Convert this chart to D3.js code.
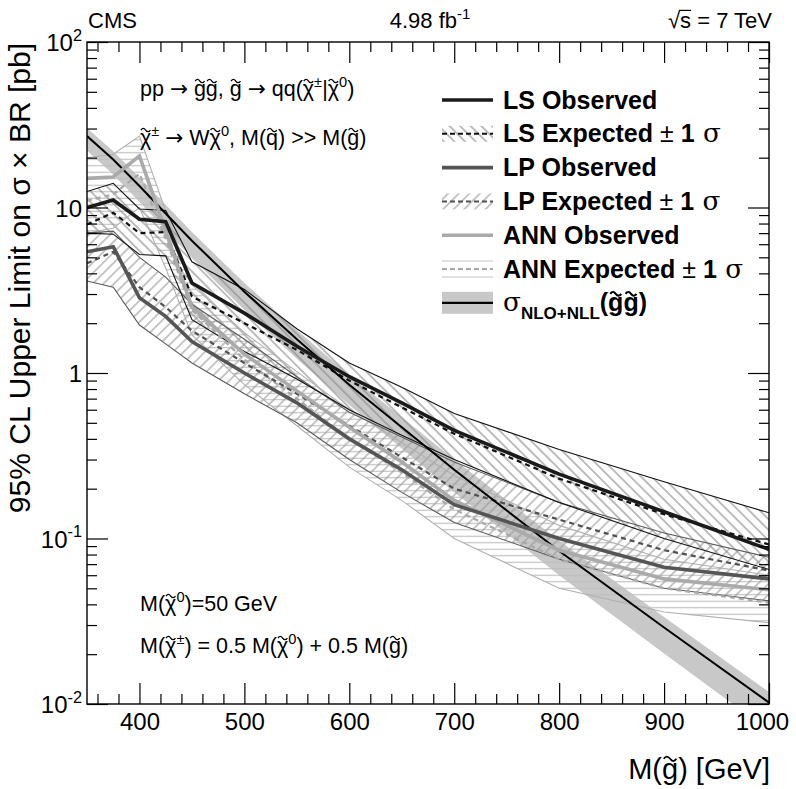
<!DOCTYPE html>
<html><head><meta charset="utf-8">
<script src="https://cdn.jsdelivr.net/npm/d3@7"></script>
<style>
body{margin:0;background:#fff}
text{font-family:"Liberation Sans",Arial,Helvetica,sans-serif;fill:#000}
</style>
</head><body>
<svg id="chart" width="796" height="789"></svg>
<script>
// ---------------- data ----------------
const masses   = [350, 375, 400, 425, 450, 500, 550, 600, 650, 700, 800, 900, 1000];

const theory     = [27, 19.5, 13.5, 9.2, 6.3, 3.1, 1.6, 0.85, 0.47, 0.26, 0.084, 0.029, 0.0102];
const theoryUp   = [30.2, 21.9, 15.2, 10.4, 7.1, 3.5, 1.82, 0.97, 0.54, 0.30, 0.097, 0.0335, 0.0118];
const theoryDown = [22, 15.8, 10.8, 7.3, 4.95, 2.4, 1.22, 0.64, 0.35, 0.19, 0.060, 0.0202, 0.0069];

const lsObs  = [10, 11.1, 8.5, 8.2, 3.5, 2.3, 1.45, 0.95, 0.66, 0.45, 0.245, 0.145, 0.086];
const lsExp  = [7.9, 9.3, 7.0, 7.1, 2.9, 2.0, 1.38, 0.90, 0.62, 0.43, 0.23, 0.14, 0.092];
const lsUp   = [12.5, 14, 9.8, 9.6, 4.7, 3.2, 1.85, 1.15, 0.82, 0.57, 0.345, 0.22, 0.143];
const lsDown = [7.0, 6.9, 5.2, 5.1, 2.1, 1.35, 0.92, 0.60, 0.42, 0.30, 0.165, 0.10, 0.065];

const lpObs  = [5.4, 5.8, 2.85, 2.2, 1.55, 1.0, 0.66, 0.40, 0.26, 0.16, 0.10, 0.067, 0.057];
const lpExp  = [4.6, 5.4, 3.3, 2.5, 1.8, 1.15, 0.75, 0.48, 0.31, 0.20, 0.13, 0.085, 0.064];
const lpUp   = [7.0, 7.2, 5.0, 3.8, 2.6, 1.6, 0.95, 0.58, 0.41, 0.29, 0.165, 0.108, 0.077];
const lpDown = [3.6, 3.3, 1.95, 1.5, 1.15, 0.75, 0.50, 0.30, 0.19, 0.125, 0.075, 0.050, 0.042];

const annObs  = [15, 15.3, 20.5, 7.2, 2.5, 1.3, 0.78, 0.47, 0.29, 0.17, 0.085, 0.057, 0.049];
const annExp  = [11, 12, 16, 6.5, 2.4, 1.2, 0.70, 0.40, 0.25, 0.15, 0.075, 0.050, 0.041];
const annUp   = [20, 21, 27, 9.5, 3.4, 1.75, 1.02, 0.60, 0.38, 0.24, 0.12, 0.075, 0.060];
const annDown = [7, 7.5, 10, 4.3, 1.7, 0.85, 0.48, 0.27, 0.17, 0.10, 0.050, 0.036, 0.031];

const xTickValues = [400, 500, 600, 700, 800, 900, 1000];
const xTickLabels = ["400", "500", "600", "700", "800", "900", "1000"];
const yTickValues = [0.01, 0.1, 1, 10, 100];
const yTickBase   = ["10", "10", "1", "10", "10"];
const yTickExp    = ["-2", "-1", "", "", "2"];

const legendLabels = [
  [["LS Observed","b"]],
  [["LS Expected","b"],[" \u00b1 ",""],["1","b"],[" \u03c3","serif"]],
  [["LP Observed","b"]],
  [["LP Expected","b"],[" \u00b1 ",""],["1","b"],[" \u03c3","serif"]],
  [["ANN Observed","b"]],
  [["ANN Expected","b"],[" \u00b1 ",""],["1","b"],[" \u03c3","serif"]],
  [["\u03c3","serif"],["NLO+NLL","b sub"],["(","b"],["g","b t"],["g","b t"],[")","b"]]
];

// ---------------- layout ----------------
const L = 87, R = 769, T = 42, B = 704;
const svg = d3.select("#chart");
const x = d3.scaleLinear().domain([350, 1000]).range([L, R]);
const y = d3.scaleLog().domain([0.01, 100]).range([B, T]);

const defs = svg.append("defs");
defs.append("clipPath").attr("id","clip").append("rect")
  .attr("x",L).attr("y",T).attr("width",R-L).attr("height",B-T);

function hatch(id, angle, color, sp){
  const p = defs.append("pattern").attr("id",id).attr("patternUnits","userSpaceOnUse")
    .attr("width",sp).attr("height",sp).attr("patternTransform",`rotate(${angle})`);
  p.append("line").attr("x1",sp/2).attr("y1",0).attr("x2",sp/2).attr("y2",sp)
    .attr("stroke",color).attr("stroke-width",1.1);
}
hatch("hLS", -45, "#8a8a8a", 7.5);
hatch("hLP", 45, "#9a9a9a", 7.5);
hatch("hANN", 90, "#bdbdbd", 6.5);

// rich text: tokens b, sup, sub, serif, arr (wide arrow), t (tilde above), o (overline)
function rich(sel, xx, yy, segs, size, anchor){
  const t = sel.append("text").attr("x",xx).attr("y",yy).attr("font-size",size)
    .attr("text-anchor",anchor||"start");
  let shift = 0;
  const marks = [];
  segs.forEach(([s, st]) => {
    const f = new Set((st||"").split(" "));
    const ts = t.append("tspan").text(s);
    const target = f.has("sup") ? -0.42*size : f.has("sub") ? 0.32*size : 0;
    ts.attr("dy", target - shift); shift = target;
    let fs = size;
    if (f.has("sup") || f.has("sub")) fs = size*0.68;
    if (f.has("serif")) { fs = size*1.05; ts.attr("font-family","'DejaVu Serif','Liberation Serif',serif"); }
    if (f.has("arr")) ts.attr("font-family","'DejaVu Sans',sans-serif");
    ts.attr("font-size", fs);
    if (f.has("b")) ts.attr("font-weight","bold");
    if (f.has("t") || f.has("o")) marks.push({ts, f, fs, base: yy + target});
  });
  marks.forEach(({ts, f, fs, base}) => {
    const n = ts.node();
    const e0 = n.getExtentOfChar(0);
    const eN = n.getExtentOfChar(n.getNumberOfChars()-1);
    if (f.has("t")) {
      const w = fs*0.44, a = fs*0.075, cx = e0.x + e0.width/2, cy = base - fs*0.74;
      sel.append("path")
        .attr("d",`M${cx-w/2},${cy+a*0.6} q${w/4},${-2*a} ${w/2},0 t${w/2},0`)
        .attr("fill","none").attr("stroke","#000").attr("stroke-width", f.has("b") ? fs*0.085 : fs*0.06);
    } else {
      const oy = base - fs*0.80;
      sel.append("line").attr("x1",e0.x-fs*0.05).attr("x2",eN.x+eN.width)
        .attr("y1",oy).attr("y2",oy).attr("stroke","#000").attr("stroke-width",fs*0.055);
    }
  });
  return t;
}

const rows = masses.map((m,i)=>({m, th:theory[i], thU:theoryUp[i], thD:theoryDown[i],
  lsO:lsObs[i], lsE:lsExp[i], lsU:lsUp[i], lsD:lsDown[i],
  lpO:lpObs[i], lpE:lpExp[i], lpU:lpUp[i], lpD:lpDown[i],
  anO:annObs[i], anE:annExp[i], anU:annUp[i], anD:annDown[i]}));

const plot = svg.append("g").attr("clip-path","url(#clip)");
const area = (lo,hi) => d3.area().x(d=>x(d.m)).y0(d=>y(d[lo])).y1(d=>y(d[hi]));
const line = k => d3.line().x(d=>x(d.m)).y(d=>y(d[k]));

// theory band
plot.append("path").datum(rows).attr("d",area("thD","thU")).attr("fill","#c8c8c8");
// hatched expected bands
plot.append("path").datum(rows).attr("d",area("anD","anU")).attr("fill","url(#hANN)");
plot.append("path").datum(rows).attr("d",area("lpD","lpU")).attr("fill","url(#hLP)");
plot.append("path").datum(rows).attr("d",area("lsD","lsU")).attr("fill","url(#hLS)");
// band edges
[["anU","#b0b0b0"],["anD","#b0b0b0"],["lpU","#5a5a5a"],["lpD","#5a5a5a"],["lsU","#111"],["lsD","#111"]]
  .forEach(([k,c])=>plot.append("path").datum(rows).attr("d",line(k)).attr("fill","none")
    .attr("stroke",c).attr("stroke-width",1.1));
// expected lines
[["anE","#a8a8a8"],["lpE","#505050"],["lsE","#111"]].forEach(([k,c])=>
  plot.append("path").datum(rows).attr("d",line(k)).attr("fill","none")
    .attr("stroke",c).attr("stroke-width",2.2).attr("stroke-dasharray","5,4"));
// theory central line
plot.append("path").datum(rows).attr("d",line("th")).attr("fill","none")
  .attr("stroke","#000").attr("stroke-width",2);
// observed lines
[["anO","#aaaaaa"],["lpO","#555555"],["lsO","#1a1a1a"]].forEach(([k,c])=>
  plot.append("path").datum(rows).attr("d",line(k)).attr("fill","none")
    .attr("stroke",c).attr("stroke-width",3.6));

// ---------------- axes ----------------
const xMinor = d3.range(360, 1001, 20).filter(v => v % 100 !== 0);
const yMinor = [];
[0.01,0.1,1,10].forEach(dec => { for (let k=2;k<=9;k++) yMinor.push(dec*k); });

const ax = svg.append("g");
function styleAxis(g){ g.select(".domain").remove(); g.selectAll("line").attr("stroke","#000").attr("stroke-width",1.2); }

ax.append("g").attr("transform",`translate(0,${B})`)
  .call(d3.axisBottom(x).tickValues(xTickValues).tickSize(-21).tickSizeOuter(0).tickPadding(9)
    .tickFormat((d,i)=>xTickLabels[i]))
  .call(styleAxis)
  .call(g=>g.selectAll("text").attr("font-size",24).attr("fill","#000")
    .attr("font-family","Liberation Sans, Arial, sans-serif")
    .attr("dx",(d,i)=> i===xTickLabels.length-1 ? -7 : 0));
ax.append("g").attr("transform",`translate(0,${B})`)
  .call(d3.axisBottom(x).tickValues(xMinor).tickSize(-10).tickSizeOuter(0).tickFormat(""))
  .call(styleAxis);
ax.append("g").attr("transform",`translate(0,${T})`)
  .call(d3.axisTop(x).tickValues(xTickValues).tickSize(-21).tickSizeOuter(0).tickFormat(""))
  .call(styleAxis);
ax.append("g").attr("transform",`translate(0,${T})`)
  .call(d3.axisTop(x).tickValues(xMinor).tickSize(-10).tickSizeOuter(0).tickFormat(""))
  .call(styleAxis);
ax.append("g").attr("transform",`translate(${L},0)`)
  .call(d3.axisLeft(y).tickValues(yTickValues).tickSize(-21).tickSizeOuter(0).tickFormat(""))
  .call(styleAxis);
ax.append("g").attr("transform",`translate(${L},0)`)
  .call(d3.axisLeft(y).tickValues(yMinor).tickSize(-10).tickSizeOuter(0).tickFormat(""))
  .call(styleAxis);
ax.append("g").attr("transform",`translate(${R},0)`)
  .call(d3.axisRight(y).tickValues(yTickValues).tickSize(-21).tickSizeOuter(0).tickFormat(""))
  .call(styleAxis);
ax.append("g").attr("transform",`translate(${R},0)`)
  .call(d3.axisRight(y).tickValues(yMinor).tickSize(-10).tickSizeOuter(0).tickFormat(""))
  .call(styleAxis);

svg.append("rect").attr("x",L).attr("y",T).attr("width",R-L).attr("height",B-T)
  .attr("fill","none").attr("stroke","#000").attr("stroke-width",1.4);

// y tick labels
yTickValues.forEach((v,i)=>{
  const segs = [[yTickBase[i],""]];
  if (yTickExp[i]) segs.push([yTickExp[i],"sup"]);
  rich(svg, 82, y(v)+9, segs, 24, "end");
});

// axis titles
rich(svg, 770, 779, [["M(",""],["g","t"],[") [GeV]",""]], 29, "end");
svg.append("text").attr("transform",`translate(30,${T+1}) rotate(-90)`)
  .attr("text-anchor","end").attr("font-size",30)
  .text("95% CL Upper Limit on \u03c3 \u00d7 BR [pb]");

// header
rich(svg, 88, 28, [["CMS",""]], 22);
rich(svg, 430, 28, [["4.98 fb",""],["-1","sup"]], 22, "middle");
rich(svg, 772, 28, [["\u221a",""],["s","o"],[" = 7 TeV",""]], 22, "end");

// annotations inside the frame
const A = 21.5;
rich(svg, 140, 96, [["pp ",""],["\u2192","arr"],[" ",""],["g","t"],["g","t"],[", ",""],["g","t"],[" ",""],["\u2192","arr"],[" qq(",""],["\u03c7","t"],["\u00b1","sup"],["|",""],["\u03c7","t"],["0","sup"],[")",""]], A);
rich(svg, 140, 145, [["\u03c7","t"],["\u00b1","sup"],[" ",""],["\u2192","arr"],[" W",""],["\u03c7","t"],["0","sup"],[", M(",""],["q","t"],[") >> M(",""],["g","t"],[")",""]], A);
rich(svg, 140, 611, [["M(",""],["\u03c7","t"],["0","sup"],[")=50 GeV",""]], A);
rich(svg, 140, 653, [["M(",""],["\u03c7","t"],["\u00b1","sup"],[") = 0.5 M(",""],["\u03c7","t"],["0","sup"],[") + 0.5 M(",""],["g","t"],[")",""]], A);

// ---------------- legend ----------------
const lg = svg.append("g");
const lx0 = 442, lx1 = 493, ltx = 503;
const legendStyle = [
  {type:"line", c:"#1a1a1a"},
  {type:"band", fill:"url(#hLS)", c:"#111", edge:false},
  {type:"line", c:"#555555"},
  {type:"band", fill:"url(#hLP)", c:"#505050", edge:false},
  {type:"line", c:"#aaaaaa"},
  {type:"band", fill:"url(#hANN)", c:"#a8a8a8", edge:true},
  {type:"theory"}
];
legendLabels.forEach((segs,i)=>{
  const cy = 100 + i*33.8;
  const s = legendStyle[i];
  if (s.type==="line") {
    lg.append("line").attr("x1",lx0).attr("x2",lx1).attr("y1",cy).attr("y2",cy)
      .attr("stroke",s.c).attr("stroke-width",3.6);
  } else if (s.type==="band") {
    if (s.edge) {
      [cy-8, cy+8].forEach(yy=>lg.append("line").attr("x1",lx0).attr("x2",lx1).attr("y1",yy).attr("y2",yy)
        .attr("stroke","#c4c4c4").attr("stroke-width",1.1));
    } else {
      lg.append("rect").attr("x",lx0).attr("y",cy-8).attr("width",lx1-lx0).attr("height",16).attr("fill",s.fill);
    }
    lg.append("line").attr("x1",lx0).attr("x2",lx1).attr("y1",cy).attr("y2",cy)
      .attr("stroke",s.c).attr("stroke-width",2).attr("stroke-dasharray","5,3");
  } else {
    lg.append("rect").attr("x",lx0).attr("y",cy-11).attr("width",lx1-lx0).attr("height",22).attr("fill","#c8c8c8");
    lg.append("line").attr("x1",lx0).attr("x2",lx1).attr("y1",cy).attr("y2",cy)
      .attr("stroke","#000").attr("stroke-width",2.2);
  }
  rich(lg, ltx, cy+8.5, segs, 25);
});
</script>
</body></html>
